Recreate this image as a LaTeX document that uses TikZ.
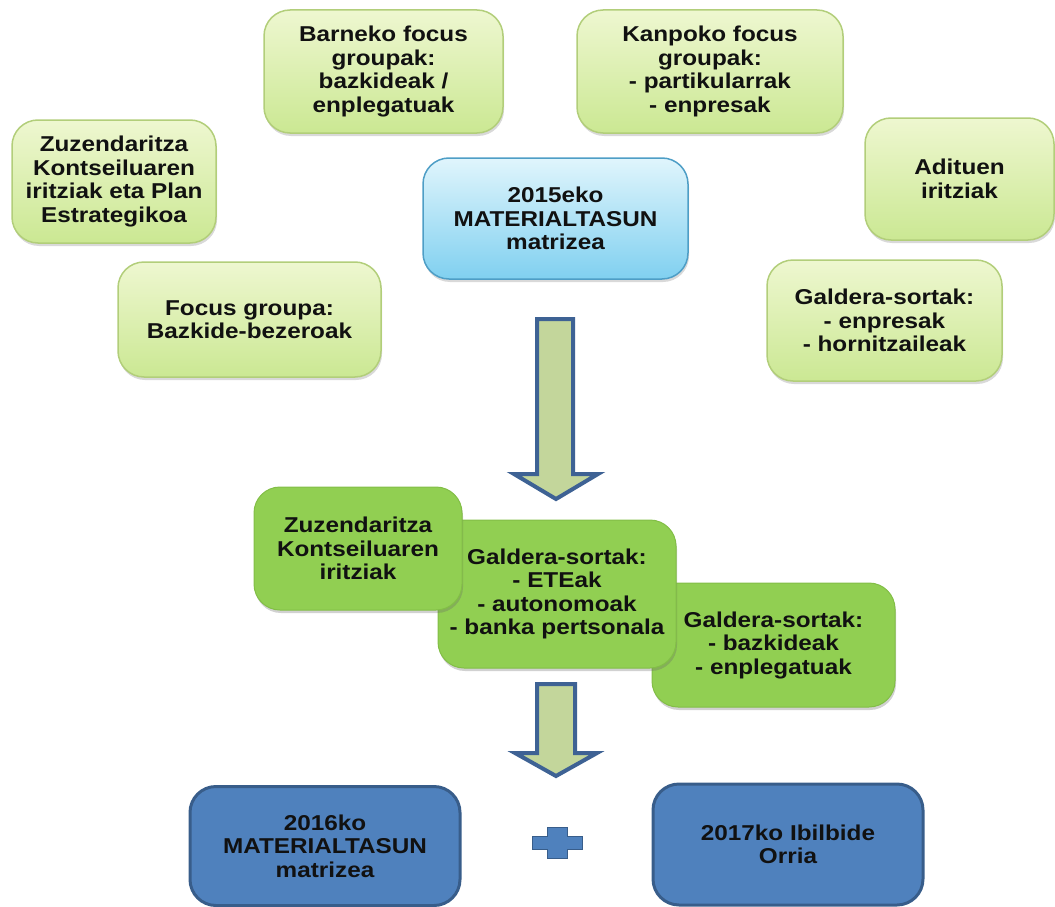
\documentclass[tikz,border=0pt]{standalone}
\usepackage{fontspec}
\setmainfont{Liberation Sans}[FakeStretch=1.13]
\usetikzlibrary{shadows}
\definecolor{lgtop}{RGB}{238,247,208}
\definecolor{lgbot}{RGB}{203,232,147}
\definecolor{lgline}{RGB}{178,206,122}
\definecolor{lbtop}{RGB}{224,245,252}
\definecolor{lbbot}{RGB}{128,208,240}
\definecolor{lbline}{RGB}{78,158,198}
\definecolor{mgfill}{RGB}{145,207,82}
\definecolor{mgline}{RGB}{130,190,70}
\definecolor{dbfill}{RGB}{79,129,189}
\definecolor{dbline}{RGB}{56,93,138}
\definecolor{arfill}{RGB}{195,214,155}
\definecolor{arline}{RGB}{62,98,148}
\definecolor{txt}{RGB}{17,17,17}
\begin{document}
\begin{tikzpicture}[x=1pt,y=-1pt,
  every node/.style={font=\fontsize{21.5}{23.5}\selectfont\bfseries, text=txt, align=center, inner sep=0pt},
  box/.style={rounded corners=26pt},
  lgbox/.style={box, top color=lgtop, bottom color=lgbot, draw=lgline, line width=1.5pt,
     drop shadow={shadow xshift=1pt, shadow yshift=-3pt, opacity=0.25, fill=black!60}},
  lbbox/.style={box, top color=lbtop, bottom color=lbbot, draw=lbline, line width=1.5pt,
     drop shadow={shadow xshift=1pt, shadow yshift=-3pt, opacity=0.25, fill=black!60}},
  mgbox/.style={box, fill=mgfill, draw=mgline, line width=1pt,
     drop shadow={shadow xshift=1pt, shadow yshift=-3pt, opacity=0.3, fill=black!60}},
  dbbox/.style={box, fill=dbfill, draw=dbline, line width=3pt},
  blockarrow/.style={fill=arfill, draw=arline, line width=4pt, line join=miter},
  plussign/.style={fill=dbfill, draw=dbline, line width=1pt}
]
\useasboundingbox (0,0) rectangle (1055,907);

% top light-green boxes
\node[lgbox, minimum width=239pt, minimum height=123pt] (barneko) at (383.5,71.5)
  {Barneko focus\\groupak:\\bazkideak /\\enplegatuak};
\node[lgbox, minimum width=266pt, minimum height=123pt] (kanpoko) at (710,71.5)
  {Kanpoko focus\\groupak:\\- partikularrak\\- enpresak};
\node[lgbox, minimum width=204pt, minimum height=123pt] (zuztop) at (114,181.5)
  {Zuzendaritza\\Kontseiluaren\\iritziak eta Plan\\Estrategikoa};
\node[lgbox, minimum width=263pt, minimum height=115pt] (focus) at (249.5,319.5)
  {Focus groupa:\\Bazkide-bezeroak};
\node[lgbox, minimum width=189pt, minimum height=122pt] (adituen) at (959.5,179)
  {Adituen\\iritziak};
\node[lgbox, minimum width=235pt, minimum height=121pt] (galdera1) at (884.5,320.5)
  {Galdera-sortak:\\- enpresak\\- hornitzaileak};

% 2015 box
\node[lbbox, minimum width=265pt, minimum height=121pt] (m2015) at (555.5,218.5)
  {2015eko\\MATERIALTASUN\\matrizea};

% arrow 1
\draw[blockarrow] (537,319) -- (573,319) -- (573,474) -- (598,474) -- (556,499)
  -- (514,474) -- (537,474) -- cycle;

% middle green boxes (back to front)
\node[mgbox, minimum width=243pt, minimum height=124pt] (bazk) at (773.5,645)
  {Galdera-sortak:\\- bazkideak\\- enplegatuak};
\node[mgbox, minimum width=238pt, minimum height=148pt] (eteak) at (557,594)
  {Galdera-sortak:\\- ETEak\\- autonomoak\\- banka pertsonala};
\node[mgbox, minimum width=208pt, minimum height=123pt] (zuzmid) at (358,548.5)
  {Zuzendaritza\\Kontseiluaren\\iritziak};

% arrow 2
\draw[blockarrow] (537,684) -- (575,684) -- (575,753) -- (597,753) -- (556,776)
  -- (515,753) -- (537,753) -- cycle;

% bottom dark-blue boxes
\node[dbbox, minimum width=270pt, minimum height=119pt] (b2016) at (325,846)
  {2016ko\\MATERIALTASUN\\matrizea};
\node[dbbox, minimum width=270pt, minimum height=121pt] (b2017) at (788,844.5)
  {2017ko Ibilbide\\Orria};

% plus sign
\draw[plussign] (547,827) -- (567,827) -- (567,836) -- (582,836) -- (582,849) -- (567,849)
  -- (567,858) -- (547,858) -- (547,849) -- (532,849) -- (532,836) -- (547,836) -- cycle;
\end{tikzpicture}
\end{document}
